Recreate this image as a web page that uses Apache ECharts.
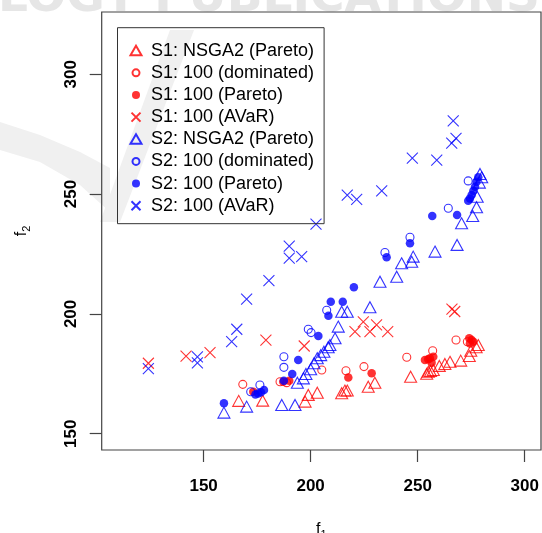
<!DOCTYPE html>
<html>
<head>
<meta charset="utf-8">
<script src="https://cdn.jsdelivr.net/npm/echarts@6/dist/echarts.min.js"></script>
<style>
  html, body { margin: 0; padding: 0; background: #fff; }
  #chart { width: 542px; height: 533px; }
</style>
</head>
<body>
<div id="chart"></div>
<script>
// Tick positions on both axes
const xTicks = [150, 200, 250, 300];
const yTicks = [150, 200, 250, 300];

// Legend labels, in drawing order
const seriesNames = [
  'S1: NSGA2 (Pareto)',
  'S1: 100 (dominated)',
  'S1: 100 (Pareto)',
  'S1: 100 (AVaR)',
  'S2: NSGA2 (Pareto)',
  'S2: 100 (dominated)',
  'S2: 100 (Pareto)',
  'S2: 100 (AVaR)'
];

// Each point is [f1, f2]
const s1Nsga2 = [[166.4,163.7],[177.6,163.8],[197.4,163.4],[198.9,166.2],[203.1,167.1],[214.5,166.9],[216.0,168.0],[217.1,168.0],[226.9,169.6],[230.0,171.3],[246.7,173.8],[254.2,175.0],[255.0,175.9],[256.0,176.2],[257.3,176.6],[260.1,178.3],[262.7,179.1],[265.1,180.0],[270.1,180.5],[274.1,182.4],[274.8,184.6],[277.3,186.1],[278.3,187.0]];
const s1Dominated = [[168.3,170.6],[185.7,171.7],[188.8,171.3],[205.2,176.6],[216.5,176.3],[224.9,178.0],[244.9,181.9],[257.0,184.6],[267.9,189.1],[273.2,188.4]];
const s1Pareto = [[173.2,167.5],[187.2,171.7],[190.0,172.1],[217.6,173.5],[228.5,175.2],[253.4,180.8],[254.9,181.1],[255.7,181.5],[257.3,182.1],[256.5,179.6],[274.1,189.8],[275.2,189.1],[276.0,188.4],[274.4,187.7]];
const s1Avar = [[124.2,179.4],[141.8,182.4],[153.0,183.8],[179.1,189.1],[197.0,186.6],[220.7,192.6],[224.6,196.7],[227.7,192.6],[230.8,195.4],[236.0,192.6],[266.0,202.0],[267.3,201.0]];

const s2Nsga2 = [[159.5,158.8],[170.1,161.3],[186.5,162.0],[192.7,162.0],[193.8,171.3],[196.6,173.1],[197.8,174.9],[200.0,176.9],[201.6,179.4],[203.1,181.5],[204.7,182.8],[206.2,184.2],[208.2,186.1],[209.0,187.0],[211.4,189.8],[212.9,194.7],[214.5,200.9],[217.1,200.9],[227.7,202.8],[232.4,213.4],[240.2,215.5],[242.5,221.1],[247.2,221.8],[247.9,223.9],[258.1,226.0],[268.4,228.8],[270.5,237.8],[275.7,240.9],[277.5,244.5],[277.8,248.9],[278.8,254.8],[279.9,257.0],[279.1,258.4]];
const s2Dominated = [[172.0,167.5],[176.3,170.3],[187.5,182.1],[187.5,177.7],[198.9,193.6],[200.2,192.2],[207.5,201.5],[234.7,225.6],[246.4,232.0],[264.3,244.1],[273.6,255.5]];
const s2Pareto = [[159.5,162.7],[174.2,166.4],[175.5,166.8],[176.8,167.3],[178.2,168.2],[187.5,172.1],[191.4,174.9],[194.2,180.8],[203.6,190.8],[208.3,199.2],[209.4,205.1],[215.0,205.1],[220.2,211.1],[235.5,223.6],[246.4,229.5],[256.8,240.9],[268.4,241.3],[273.6,247.2],[274.4,248.2],[275.2,249.6],[276.0,251.4],[276.8,253.1],[277.5,255.2],[278.3,257.0]];
const s2Avar = [[124.2,177.2],[147.1,182.1],[147.1,179.6],[163.1,188.4],[165.5,193.6],[170.1,206.2],[180.5,213.9],[190.0,228.3],[190.0,223.3],[195.8,223.9],[202.5,237.5],[217.1,249.6],[221.5,247.8],[233.2,251.3],[247.5,265.0],[258.9,264.2],[266.6,280.6],[267.9,273.3],[265.9,271.3]];

const RED = '#ff0000';
const BLUE = '#0000ff';

// Marker shapes; the extra move-to points pad the legend icons to their drawn size
const CROSS = 'path://M-5,-5L5,5M5,-5L-5,5';
const PAD = 'M-10,-6M10,6';
const ICON_TRI = 'path://' + PAD + 'M0,-5L5.5,4.5L-5.5,4.5Z';
const ICON_RING = 'path://' + PAD + 'M3.5,0A3.5,3.5,0,1,1,-3.5,0A3.5,3.5,0,1,1,3.5,0Z';
const ICON_DOT = 'path://' + PAD + 'M4,0A4,4,0,1,1,-4,0A4,4,0,1,1,4,0Z';
const ICON_CROSS = 'path://' + PAD + 'M-4.5,-4.5L4.5,4.5M4.5,-4.5L-4.5,4.5';

function openTriangle(name, data, color) {
  return { name, type: 'scatter', data, symbol: 'triangle', symbolSize: [12, 11],
    itemStyle: { color: 'transparent', borderColor: color, borderWidth: 1.1 } };
}
function openCircle(name, data, color) {
  return { name, type: 'scatter', data, symbol: 'circle', symbolSize: 8,
    itemStyle: { color: 'transparent', borderColor: color, borderWidth: 1.1 } };
}
function filledCircle(name, data, color) {
  return { name, type: 'scatter', data, symbol: 'circle', symbolSize: 8.5,
    itemStyle: { color: color, borderWidth: 0 } };
}
function cross(name, data, color) {
  return { name, type: 'scatter', data, symbol: CROSS, symbolSize: 11,
    itemStyle: { color: 'transparent', borderColor: color, borderWidth: 1.1 } };
}

const chart = echarts.init(document.getElementById('chart'), null, { renderer: 'canvas' });

const FONT = 'Liberation Sans, Arial, sans-serif';
const axisFont = { color: '#000', fontSize: 17, fontWeight: 'bold', fontFamily: FONT };
const nameRich = {
  i: { fontSize: 16, fontFamily: FONT, color: '#000', lineHeight: 18 },
  s: { fontSize: 11, fontFamily: FONT, color: '#000', lineHeight: 12, padding: [10, 0, 0, 0] }
};

chart.setOption({
  animation: false,
  backgroundColor: '#fff',
  graphic: [
    { type: 'text', x: -2, y: -25, z: -10, silent: true,
      style: { text: 'LOGY PUBLICATIONS', font: 'bold 47px "DejaVu Sans"', fill: '#e6e6e6' } },
    { type: 'polygon', z: -10, silent: true,
      shape: { points: [[170, 30], [194, 30], [120, 222], [100, 222]] },
      style: { fill: '#f0f0f0' } },
    { type: 'polygon', z: -10, silent: true,
      shape: { points: [[0, 122], [40, 135], [80, 152], [110, 168], [110, 212], [80, 185], [40, 162], [0, 150]] },
      style: { fill: '#f0f0f0' } }
  ],
  grid: {
    left: 101.7, right: 1, top: 12, bottom: 83,
    outerBoundsMode: 'none', containLabel: false,
    show: true, borderColor: '#444', borderWidth: 1.2, backgroundColor: 'transparent'
  },
  legend: {
    orient: 'vertical', left: 117.5, top: 27.7,
    padding: [14, 10, 9, 7.5],
    itemGap: 4.14, itemWidth: 20, itemHeight: 12,
    borderColor: '#333', borderWidth: 1, borderRadius: 0,
    backgroundColor: 'transparent',
    textStyle: { fontSize: 18, fontFamily: FONT, color: '#000', lineHeight: 18 },
    data: [
      { name: seriesNames[0], icon: ICON_TRI },
      { name: seriesNames[1], icon: ICON_RING },
      { name: seriesNames[2], icon: ICON_DOT },
      { name: seriesNames[3], icon: ICON_CROSS },
      { name: seriesNames[4], icon: ICON_TRI },
      { name: seriesNames[5], icon: ICON_RING },
      { name: seriesNames[6], icon: ICON_DOT },
      { name: seriesNames[7], icon: ICON_CROSS }
    ]
  },
  xAxis: {
    type: 'value', min: 102.4, max: 307.6,
    name: '{i|f}{s|1}', nameLocation: 'middle', nameGap: 71,
    nameTextStyle: { rich: nameRich },
    axisLine: { show: false },
    axisTick: { show: true, inside: false, length: 12, lineStyle: { color: '#444', width: 1.2 }, customValues: xTicks },
    axisLabel: Object.assign({ margin: 28, customValues: xTicks }, axisFont),
    splitLine: { show: false }
  },
  yAxis: {
    type: 'value', min: 143.2, max: 326.0,
    name: '{i|f}{s|2}', nameLocation: 'middle', nameGap: 71, nameRotate: 90,
    nameTextStyle: { rich: nameRich },
    axisLine: { show: false },
    axisTick: { show: true, inside: false, length: 12, lineStyle: { color: '#444', width: 1.2 }, customValues: yTicks },
    axisLabel: Object.assign({ margin: 22, rotate: 90, customValues: yTicks }, axisFont),
    splitLine: { show: false }
  },
  series: [
    openTriangle(seriesNames[0], s1Nsga2, RED),
    openCircle(seriesNames[1], s1Dominated, RED),
    filledCircle(seriesNames[2], s1Pareto, RED),
    cross(seriesNames[3], s1Avar, RED),
    openTriangle(seriesNames[4], s2Nsga2, BLUE),
    openCircle(seriesNames[5], s2Dominated, BLUE),
    filledCircle(seriesNames[6], s2Pareto, BLUE),
    cross(seriesNames[7], s2Avar, BLUE)
  ]
});
</script>
</body>
</html>
